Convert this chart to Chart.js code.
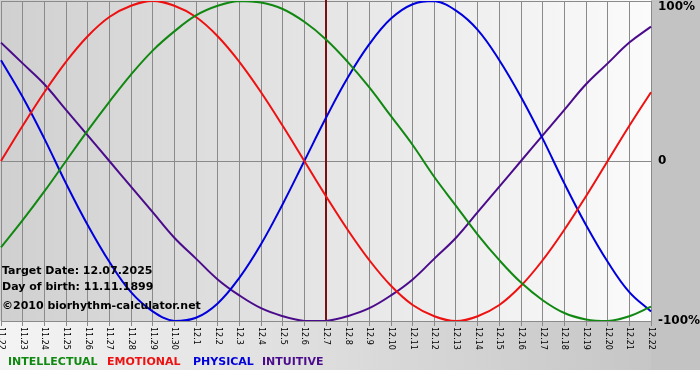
<!DOCTYPE html>
<html>
<head>
<meta charset="utf-8">
<title>Biorhythm</title>
<script src="https://cdn.jsdelivr.net/npm/chart.js@4.4.1/dist/chart.umd.min.js"></script>
<style>
    html, body { margin: 0; padding: 0; background: #fff; }
    #wrap { width: 700px; height: 380px; }
</style>
</head>
<body>
<div id="wrap"><canvas id="bio-chart" width="700" height="380"></canvas></div>
<script>
// days shown on the x axis (month.day)
const days = ['11.22', '11.23', '11.24', '11.25', '11.26', '11.27', '11.28', '11.29', '11.30',
    '12.1', '12.2', '12.3', '12.4', '12.5', '12.6', '12.7', '12.8', '12.9', '12.10', '12.11',
    '12.12', '12.13', '12.14', '12.15', '12.16', '12.17', '12.18', '12.19', '12.20', '12.21', '12.22'];

// cycle values in percent, one per day
const intellectual = [-54, -37, -19, 0, 19, 37, 54, 69, 81, 91, 97, 100, 99, 95, 87, 76,
    62, 46, 28, 10, -10, -28, -46, -62, -76, -87, -95, -99, -100, -97, -91];
const emotional = [0, 22, 43, 62, 78, 90, 97, 100, 97, 90, 78, 62, 43, 22, 0, -22,
    -43, -62, -78, -90, -97, -100, -97, -90, -78, -62, -43, -22, 0, 22, 43];
const physical = [63, 40, 14, -14, -40, -63, -82, -94, -100, -98, -89, -73, -52, -27, 0, 27,
    52, 73, 89, 98, 100, 94, 82, 63, 40, 14, -14, -40, -63, -82, -94];
const intuitive = [74, 61, 48, 32, 16, 0, -16, -32, -48, -61, -74, -84, -92, -97, -100, -100,
    -97, -92, -84, -74, -61, -48, -32, -16, 0, 16, 32, 48, 61, 74, 84];

const yTicks = [100, 0, -100];
const yTickLabels = ['100%', '0', '-100%'];
const targetDay = '12.7';
const infoLines = ['Target Date: 12.07.2025', 'Day of birth: 11.11.1899', '\u00a92010 biorhythm-calculator.net'];
const legendNames = ['INTELLECTUAL', 'EMOTIONAL', 'PHYSICAL', 'INTUITIVE'];
const colors = ['#118811', '#ee1111', '#0000dd', '#4b0c8c'];

const bioBackground = {
    id: 'bioBackground',
    beforeDraw(chart) {
        const { ctx, chartArea: a } = chart;
        ctx.save();
        ctx.fillStyle = '#ffffff';
        ctx.fillRect(0, 0, chart.width, chart.height);
        // right margin
        ctx.fillStyle = '#c3c3c3';
        ctx.fillRect(0, 0, chart.width, 370);
        // strip under the plot
        let g = ctx.createLinearGradient(0, 0, a.right, 0);
        g.addColorStop(0, '#f4f4f4');
        g.addColorStop(1, '#c6c6c6');
        ctx.fillStyle = g;
        ctx.fillRect(0, a.bottom, a.right, 370 - a.bottom);
        // plot area
        g = ctx.createLinearGradient(a.left, 0, a.right, 0);
        g.addColorStop(0, '#d0d0d0');
        g.addColorStop(1, '#fbfbfb');
        ctx.fillStyle = g;
        ctx.fillRect(0, 0, a.right, a.bottom);
        ctx.restore();
    },
    beforeDatasetsDraw(chart) {
        const { ctx, chartArea: a, scales } = chart;
        const x = scales.x.getPixelForValue(days.indexOf(targetDay));
        ctx.save();
        ctx.strokeStyle = '#7a1010';
        ctx.lineWidth = 2;
        ctx.beginPath();
        ctx.moveTo(x, 0);
        ctx.lineTo(x, a.bottom);
        ctx.stroke();
        ctx.restore();
    },
    afterDraw(chart) {
        const { ctx, chartArea: a, scales } = chart;
        ctx.save();
        // day labels, turned clockwise
        ctx.fillStyle = '#000';
        ctx.font = '8px "DejaVu Sans"';
        ctx.textAlign = 'left';
        ctx.textBaseline = 'middle';
        days.forEach((d, i) => {
            const x = scales.x.getPixelForValue(i);
            ctx.save();
            ctx.translate(x, a.bottom + 6);
            ctx.rotate(Math.PI / 2);
            ctx.fillText(d, 0, 0);
            ctx.restore();
        });
        // percent labels on the right
        ctx.font = 'bold 12px "DejaVu Sans"';
        yTicks.forEach((v, i) => {
            let y = scales.y.getPixelForValue(v);
            if (i === 0) y = Math.max(y, 7);
            ctx.fillText(yTickLabels[i], a.right + 7, y);
        });
        // info text
        ctx.font = 'bold 11px "DejaVu Sans"';
        ctx.fillText(infoLines[0], 2, 271);
        ctx.fillText(infoLines[1], 2, 287);
        ctx.fillText(infoLines[2], 2, 306);
        // legend
        const legendX = [8, 107, 193, 262];
        ctx.font = 'bold 11px "DejaVu Sans"';
        legendNames.forEach((name, i) => {
            ctx.fillStyle = colors[i];
            ctx.fillText(name, legendX[i], 362);
        });
        ctx.restore();
    }
};

function makeSet(label, data, color) {
    return {
        label: label,
        data: data,
        borderColor: color,
        borderWidth: 2,
        pointRadius: 0,
        tension: 0.4,
        fill: false
    };
}

const bioChart = new Chart(document.getElementById('bio-chart'), {
    type: 'line',
    data: {
        labels: days,
        datasets: [
            makeSet(legendNames[0], intellectual, colors[0]),
            makeSet(legendNames[1], emotional, colors[1]),
            makeSet(legendNames[2], physical, colors[2]),
            makeSet(legendNames[3], intuitive, colors[3])
        ]
    },
    options: {
        responsive: false,
        animation: false,
        layout: { padding: { left: 1, top: 1, right: 0, bottom: 0 } },
        plugins: {
            legend: { display: false },
            tooltip: { enabled: false }
        },
        scales: {
            x: {
                offset: false,
                afterFit: s => { s.height = 59; },
                grid: {
                    color: '#8a8a8a',
                    lineWidth: 1,
                    drawTicks: true,
                    tickLength: 5
                },
                border: { color: '#8a8a8a' },
                ticks: { display: false, autoSkip: false }
            },
            y: {
                position: 'right',
                min: -100,
                max: 100,
                afterFit: s => { s.width = 49; },
                grid: {
                    color: c => (c.tick.value === 0 || c.tick.value === 100) ? '#8a8a8a' : 'rgba(0,0,0,0)',
                    drawTicks: false
                },
                border: { display: false },
                ticks: { display: false, stepSize: 100 }
            }
        }
    },
    plugins: [bioBackground]
});
</script>
</body>
</html>
